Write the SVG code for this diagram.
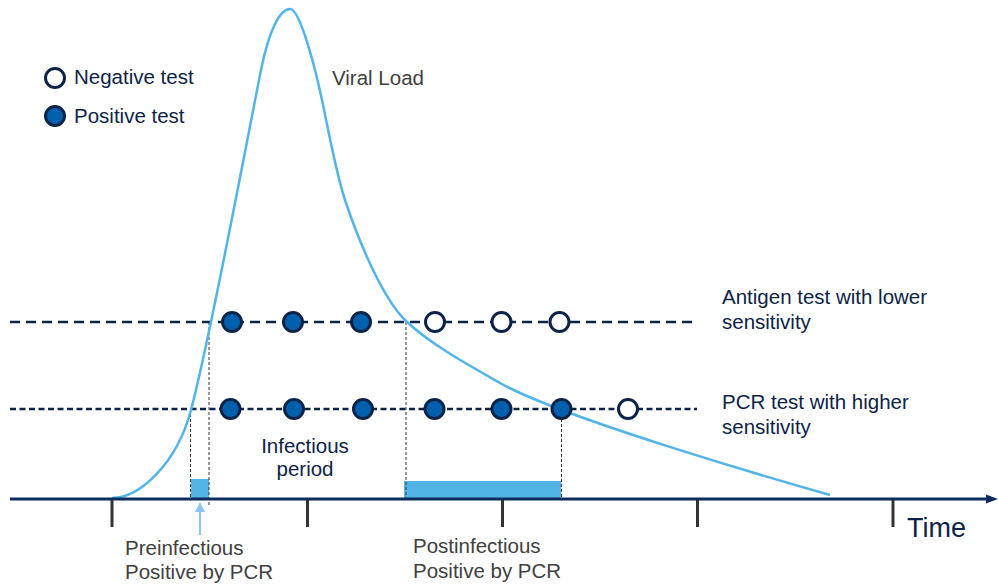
<svg xmlns="http://www.w3.org/2000/svg" width="998" height="584" viewBox="0 0 998 584">
  <style>
    .navy { font-family: "Liberation Sans", Arial, sans-serif; font-size: 20.5px; fill: #0d2346; }
    .gray { font-family: "Liberation Sans", Arial, sans-serif; font-size: 20.5px; fill: #404040; }
    .pos { fill: #0060ae; stroke: #0d2346; stroke-width: 3; }
    .neg { fill: #ffffff; stroke: #0d2346; stroke-width: 3; }
    .guide { stroke: #333333; stroke-width: 1; stroke-dasharray: 3 2; fill: none; }
    .tick { stroke: #333333; stroke-width: 3; }
    .band { fill: #53b4e6; }
  </style>
  <defs>
    <marker id="lightArrow" viewBox="0 0 10 10" refX="9" refY="5" markerWidth="5" markerHeight="5" orient="auto" markerUnits="strokeWidth">
      <path d="M0,0 L10,5 L0,10 z" fill="#8ec5f7"/>
    </marker>
  </defs>

  <rect x="0" y="0" width="998" height="584" fill="#ffffff"/>

  <!-- Legend -->
  <g id="legend">
    <circle class="neg" cx="55" cy="78" r="9.5"/>
    <text class="navy" x="74" y="84">Negative test</text>
    <circle class="pos" cx="55" cy="116" r="9.5"/>
    <text class="navy" x="74" y="123">Positive test</text>
  </g>

  <!-- Shaded bands -->
  <g id="preinfectious-band">
    <rect class="band" x="191" y="479" width="18" height="19"/>
  </g>
  <g id="postinfectious-band">
    <rect class="band" x="404" y="481" width="157" height="17"/>
  </g>

  <!-- Connectors / guides -->
  <g id="connectors">
    <line class="guide" x1="190.5" y1="409" x2="190.5" y2="498"/>
    <line class="guide" x1="209" y1="322" x2="209" y2="507"/>
    <line class="guide" x1="406" y1="322" x2="406" y2="498"/>
    <line class="guide" x1="561.5" y1="409" x2="561.5" y2="498"/>
    <line x1="200" y1="535" x2="200" y2="503" stroke="#8ec5f7" stroke-width="2" marker-end="url(#lightArrow)"/>
  </g>

  <!-- Test lines -->
  <g id="antigen-line">
    <line x1="10" y1="322" x2="692" y2="322" stroke="#0d2346" stroke-width="2.5" stroke-dasharray="10 6"/>
  </g>
  <g id="pcr-line">
    <line x1="10" y1="409" x2="697" y2="409" stroke="#0d2346" stroke-width="2.5" stroke-dasharray="6 3.5"/>
  </g>

  <!-- Viral load curve -->
  <g id="viral-load-curve">
    <path d="M112,498 C140,498 177,463 191,410 C211,334 246,145 261,70 C269,30 280,9 290,9 C300,9 315,67 322,100 C329,133 336,173 345,200 C358,239 382,298 406,321 C430,344 470,366 500,383 C560,417 770,478 830,495" fill="none" stroke="#52b4e8" stroke-width="2.5"/>
    <text class="gray" x="332" y="85">Viral Load</text>
  </g>

  <!-- Antigen test results -->
  <g id="antigen-tests">
    <circle class="pos" cx="232" cy="322" r="9.5"/>
    <circle class="pos" cx="293" cy="322" r="9.5"/>
    <circle class="pos" cx="361" cy="322" r="9.5"/>
    <circle class="neg" cx="435" cy="322" r="9.5"/>
    <circle class="neg" cx="501.5" cy="322" r="9.5"/>
    <circle class="neg" cx="559.5" cy="322" r="9.5"/>
  </g>
  <g id="antigen-label">
    <text class="navy" x="722" y="304">Antigen test with lower</text>
    <text class="navy" x="722" y="329">sensitivity</text>
  </g>

  <!-- PCR test results -->
  <g id="pcr-tests">
    <circle class="pos" cx="230.5" cy="409" r="9.5"/>
    <circle class="pos" cx="294" cy="409" r="9.5"/>
    <circle class="pos" cx="363" cy="409" r="9.5"/>
    <circle class="pos" cx="434.5" cy="409" r="9.5"/>
    <circle class="pos" cx="501.5" cy="409" r="9.5"/>
    <circle class="pos" cx="561.5" cy="409" r="9.5"/>
    <circle class="neg" cx="628" cy="409" r="9.5"/>
  </g>
  <g id="pcr-label">
    <text class="navy" x="722" y="409">PCR test with higher</text>
    <text class="navy" x="722" y="434">sensitivity</text>
  </g>

  <g id="infectious-period">
    <text class="navy" x="305" y="453" text-anchor="middle">Infectious</text>
    <text class="navy" x="305" y="476" text-anchor="middle">period</text>
  </g>

  <!-- Time axis -->
  <g id="time-axis">
    <line x1="10" y1="499" x2="988" y2="499" stroke="#0d2d5e" stroke-width="3"/>
    <polygon points="986,494.5 998,499 986,503.5" fill="#0d2d5e"/>
    <line class="tick" x1="112" y1="500" x2="112" y2="527"/>
    <line class="tick" x1="307.5" y1="500" x2="307.5" y2="527"/>
    <line class="tick" x1="502.5" y1="500" x2="502.5" y2="527"/>
    <line class="tick" x1="697.5" y1="500" x2="697.5" y2="527"/>
    <line class="tick" x1="893" y1="500" x2="893" y2="527"/>
    <text x="907" y="537" font-family="Liberation Sans, Arial, sans-serif" font-size="27" fill="#0d2346">Time</text>
  </g>

  <g id="preinfectious-label">
    <text class="gray" x="125" y="555">Preinfectious</text>
    <text class="gray" x="125" y="579">Positive by PCR</text>
  </g>
  <g id="postinfectious-label">
    <text class="gray" x="413" y="553">Postinfectious</text>
    <text class="gray" x="413" y="578">Positive by PCR</text>
  </g>
</svg>
